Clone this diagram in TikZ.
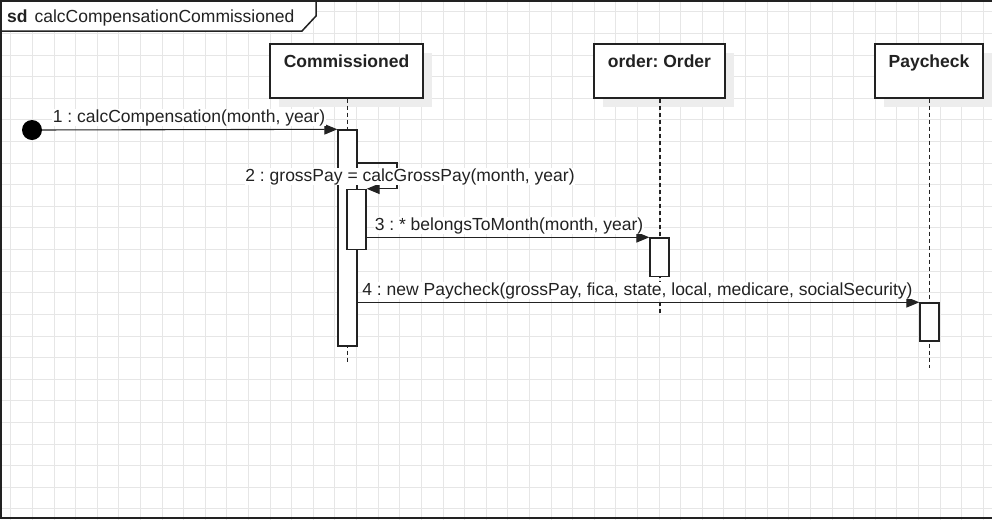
\documentclass[tikz,border=0pt]{standalone}
\usepackage{fontspec}
\setmainfont{Liberation Sans}
\usetikzlibrary{arrows.meta,shadows}
\definecolor{ink}{HTML}{222222}
\definecolor{gridc}{HTML}{E6E6E6}
\definecolor{shade}{HTML}{EDEDED}
\frenchspacing
\begin{document}
\begin{tikzpicture}[x=1pt,y=-1pt,
  every node/.style={font=\fontsize{17.5}{21}\selectfont, text=ink},
  gridline/.style={draw=gridc, line width=0.9pt},
  frameline/.style={draw=ink, line width=1.5pt},
  hdr/.style={draw=ink, line width=1.4pt, fill=white, inner sep=0pt,
    text height=23pt, text depth=31pt,
    drop shadow={shadow xshift=9pt, shadow yshift=-9pt, fill=shade, opacity=1},
    font=\bfseries\fontsize{17.5}{21}\selectfont},
  life/.style={draw=ink, line width=1.2pt, dash pattern=on 4pt off 3pt},
  act/.style={draw=ink, line width=1.4pt, fill=white, minimum width=19pt, inner sep=0pt},
  msg/.style={draw=ink, line width=1.1pt, -{Triangle[length=13pt,width=10.5pt]}},
  msglbl/.style={anchor=base, fill=white, inner sep=0.5pt}
]
\useasboundingbox (0,0) rectangle (992,520);
\fill[white] (0,0) rectangle (992,520);
% grid
\foreach \i in {0,...,45} \draw[gridline] ({10.76+21.61*\i},0) -- ({10.76+21.61*\i},520);
\foreach \j in {0,...,23} \draw[gridline] (0,{11.8+21.61*\j}) -- (992,{11.8+21.61*\j});
% frame
\draw[frameline] (995,1) -- (1,1) -- (1,518) -- (995,518);
\draw[frameline, fill=white] (1,1) -- (316,1) -- (316,16) -- (302,31) -- (1,31) -- cycle;
\node[anchor=base west, inner sep=0pt] (sdlbl) at (7,22) {{\bfseries sd}\hspace{7pt}calcCompensationCommissioned};
% headers
\node[hdr, minimum width=153pt] (comm) at (346.5,71) {Commissioned};
\node[hdr, minimum width=131pt] (ord) at (659.5,71) {order: Order};
\node[hdr, minimum width=108pt] (pay) at (929,71) {Paycheck};
% lifelines
\coordinate (commEnd) at (347.5,362);
\coordinate (ordEnd) at (660,315);
\coordinate (payEnd) at (929.5,368);
\draw[life] (commEnd |- comm.south) -- (commEnd);
\draw[life] (ordEnd |- ord.south) -- (ordEnd);
\draw[life] (payEnd |- pay.south) -- (payEnd);
% activations
\node[act, minimum height=216pt] (act1) at (347.5,238) {};
\node[act, minimum height=60pt] (act2) at (356.5,219.5) {};
\node[act, minimum height=38.5pt] (act3) at (659.5,257.25) {};
\node[act, minimum height=38pt] (act4) at (929.5,322) {};
% start
\node[circle, fill=black, minimum size=20pt, inner sep=0pt] (start) at (32,130) {};
% messages
\draw[msg] (start) -- (act1.north west);
\coordinate (sc) at (397,163);
\draw[msg] (act1.east |- sc) -- (sc) -- (sc |- act2.north) -- (act2.north east);
\draw[msg] (act3.north west -| act2.east) -- (act3.north west);
\draw[msg] (act4.north west -| act1.east) -- (act4.north west);
% labels
\node[msglbl] (l1) at (189,122) {1 : calcCompensation(month, year)};
\node[msglbl] (l2) at (410,181) {2 : grossPay = calcGrossPay(month, year)};
\node[msglbl] (l3) at (509,230) {3 : * belongsToMonth(month, year)};
\node[msglbl] (l4) at (637.5,295) {4 : new Paycheck(grossPay, fica, state, local, medicare, socialSecurity)};
\end{tikzpicture}
\end{document}
